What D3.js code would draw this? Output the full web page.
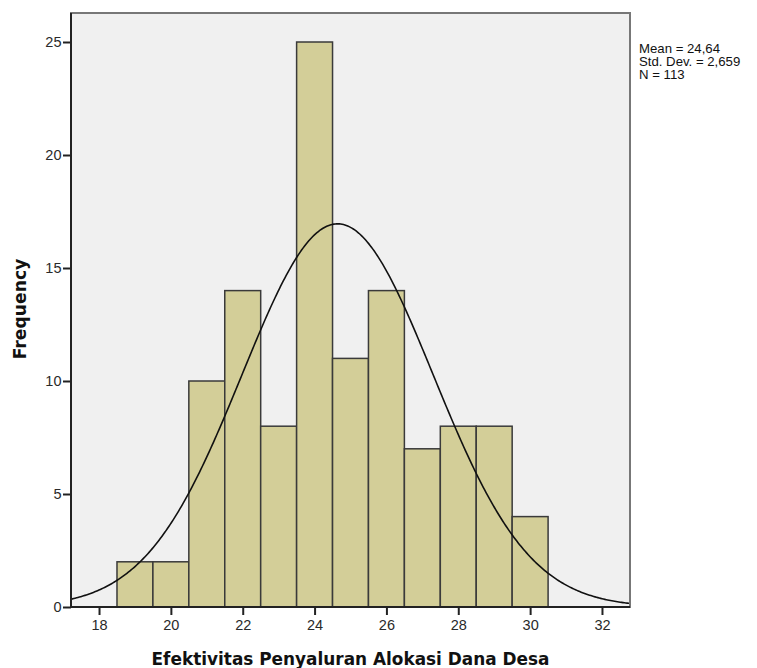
<!DOCTYPE html>
<html><head><meta charset="utf-8">
<script src="https://cdn.jsdelivr.net/npm/d3@7"></script>
<style>body{margin:0;background:#fff}svg{display:block}</style>
</head><body>
<script>
const binStarts = [18.5,19.5,20.5,21.5,22.5,23.5,24.5,25.5,26.5,27.5,28.5,29.5];
const binWidth = 1;
const frequencies = [2,2,10,14,8,25,11,14,7,8,8,4];
const xTicks = [18,20,22,24,26,28,30,32];
const yTicks = [0,5,10,15,20,25];
const stats = {mean:24.64, sd:2.659, n:113};
const statLabels = ["Mean = 24,64","Std. Dev. = 2,659","N = 113"];

const W=757,H=668;
const m={l:71,t:13,r:630,b:607};
const svg=d3.select("body").append("svg").attr("width",W).attr("height",H);
const x=d3.scaleLinear().domain([17.22,32.78]).range([m.l,m.r]);
const y=d3.scaleLinear().domain([0,25]).range([m.b,42]);

svg.append("rect").attr("x",m.l).attr("y",m.t).attr("width",m.r-m.l).attr("height",m.b-m.t)
  .attr("fill","#f0f0f0");

const g=svg.append("g");
g.selectAll("rect.bar").data(frequencies).join("rect").attr("class","bar")
  .attr("x",(d,i)=>x(binStarts[i]))
  .attr("width",(d,i)=>x(binStarts[i]+binWidth)-x(binStarts[i]))
  .attr("y",d=>y(d)).attr("height",d=>y(0)-y(d))
  .attr("fill","#d3ce98").attr("stroke","#3a3a3a").attr("stroke-width",1.5);

// normal curve from mean/sd/N
const pts=d3.range(0,401).map(i=>{
  const v=17.22+(32.78-17.22)*i/400;
  const f=stats.n*binWidth/(stats.sd*Math.sqrt(2*Math.PI))*Math.exp(-0.5*((v-stats.mean)/stats.sd)**2);
  return [v,f];
});
svg.append("path").datum(pts).attr("fill","none").attr("stroke","#111").attr("stroke-width",1.6)
  .attr("d",d3.line().x(d=>x(d[0])).y(d=>y(d[1])));

// border
svg.append("rect").attr("x",m.l).attr("y",m.t).attr("width",m.r-m.l).attr("height",m.b-m.t)
  .attr("fill","none").attr("stroke","#777").attr("stroke-width",2);

const xa=svg.append("g").attr("transform",`translate(0,${m.b})`)
  .call(d3.axisBottom(x).tickValues(xTicks).tickSize(8).tickSizeOuter(0).tickFormat(d3.format("d")));
const ya=svg.append("g").attr("transform",`translate(${m.l},0)`)
  .call(d3.axisLeft(y).tickValues(yTicks).tickSize(8).tickSizeOuter(0).tickFormat(d3.format("d")));
[xa,ya].forEach(a=>{
  a.select(".domain").attr("stroke","#222").attr("stroke-width",2);
  a.selectAll(".tick line").attr("stroke","#222").attr("stroke-width",2);
  a.selectAll("text").attr("font-family","Liberation Sans, Arial, sans-serif").attr("font-size",14.5).attr("fill","#2a2a2a");
});
xa.select(".domain").attr("d",`M${m.l},0H${m.r}`);
ya.select(".domain").attr("d",`M0,${m.t}V${m.b}`);
xa.selectAll("text").attr("dy","0.82em");
ya.selectAll("text").attr("dx","0.1em");

svg.append("text").attr("x",(m.l+m.r)/2).attr("y",665).attr("text-anchor","middle")
  .attr("font-family","DejaVu Sans, sans-serif").attr("font-weight","bold").attr("font-size",16.9)
  .attr("fill","#111").text("Efektivitas Penyaluran Alokasi Dana Desa");
svg.append("text").attr("transform",`translate(26,309) rotate(-90)`).attr("text-anchor","middle")
  .attr("font-family","DejaVu Sans, sans-serif").attr("font-weight","bold").attr("font-size",17.2)
  .attr("fill","#111").text("Frequency");

svg.append("g").attr("transform","translate(639,0)")
  .selectAll("text").data(statLabels).join("text")
  .attr("x",0).attr("y",(d,i)=>53+i*13).attr("font-family","Liberation Sans, Arial, sans-serif")
  .attr("font-size",13.2).attr("fill","#111").text(d=>d);
</script>
</body></html>
